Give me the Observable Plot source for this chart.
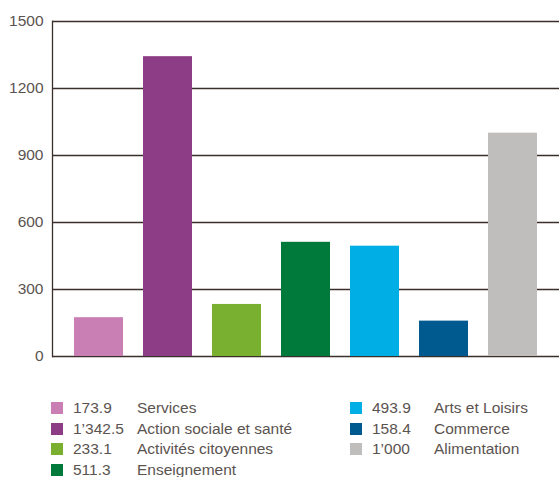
<!DOCTYPE html>
<html>
<head>
<meta charset="utf-8">
<script src="https://cdn.jsdelivr.net/npm/d3@7"></script>
<script src="https://cdn.jsdelivr.net/npm/@observablehq/plot@0.6"></script>
<style>
  body { margin: 0; background: #fff; font-family: "Liberation Sans", Arial, sans-serif; }
  #wrap { width: 560px; position: relative; }
  #legend { position: relative; height: 102px; color: #5b5350; font-size: 15.5px; }
  .item { position: absolute; height: 20px; line-height: 20px; white-space: nowrap; }
  .sw { position: absolute; width: 12px; height: 12px; top: 4px; }
  .val { position: absolute; }
  .lab { position: absolute; }
</style>
</head>
<body>
<div id="wrap">
  <div id="chart"></div>
  <div id="legend"></div>
</div>
<script>
const categories = ["Services", "Action sociale et santé", "Activités citoyennes", "Enseignement", "Arts et Loisirs", "Commerce", "Alimentation"];
const values = [173.9, 1342.5, 233.1, 511.3, 493.9, 158.4, 1000];
const valueLabels = ["173.9", "1’342.5", "233.1", "511.3", "493.9", "158.4", "1’000"];
const colors = ["#c97fb3", "#8c3d86", "#7ab030", "#007a3a", "#00aee6", "#005a8f", "#bfbebd"];
const yTicks = [0, 300, 600, 900, 1200, 1500];

const data = categories.map((c, i) => ({category: c, value: values[i]}));

const chart = Plot.plot({
  width: 560,
  height: 375,
  marginLeft: 52,
  marginRight: 1,
  marginTop: 21,
  marginBottom: 19,
  style: {fontFamily: "Liberation Sans, Arial, sans-serif", fontSize: "15.5px", color: "#5b5350", background: "#fff"},
  x: {domain: categories, paddingInner: 0.29, paddingOuter: 0.319, round: false, axis: null},
  y: {domain: [0, 1500], axis: null},
  color: {domain: categories, range: colors},
  marks: [
    Plot.ruleY(yTicks, {stroke: "#3a2f2a", strokeWidth: 1.3}),
    Plot.frame({anchor: "left", stroke: "#3a2f2a", strokeWidth: 1.3}),
    Plot.barY(data, {x: "category", y: "value", fill: "category"}),
    Plot.axisY({ticks: yTicks, tickSize: 0, tickPadding: 9, tickFormat: d => String(d), label: null, fill: "#5b5350", fontSize: 15.5})
  ]
});
document.getElementById("chart").appendChild(chart);

// legend
const legend = document.getElementById("legend");
const colX = [51, 350];
const valDX = 22;
const labDX = [86, 84];
const rowTop = 23;
const rowStep = 20.5;
categories.forEach((c, i) => {
  const col = i < 4 ? 0 : 1;
  const row = i < 4 ? i : i - 4;
  const item = document.createElement("div");
  item.className = "item";
  item.style.left = colX[col] + "px";
  item.style.top = (rowTop + row * rowStep) + "px";
  item.innerHTML = `<span class="sw" style="left:0;background:${colors[i]}"></span>` +
    `<span class="val" style="left:${valDX}px">${valueLabels[i]}</span>` +
    `<span class="lab" style="left:${labDX[col]}px">${c}</span>`;
  legend.appendChild(item);
});
</script>
</body>
</html>
